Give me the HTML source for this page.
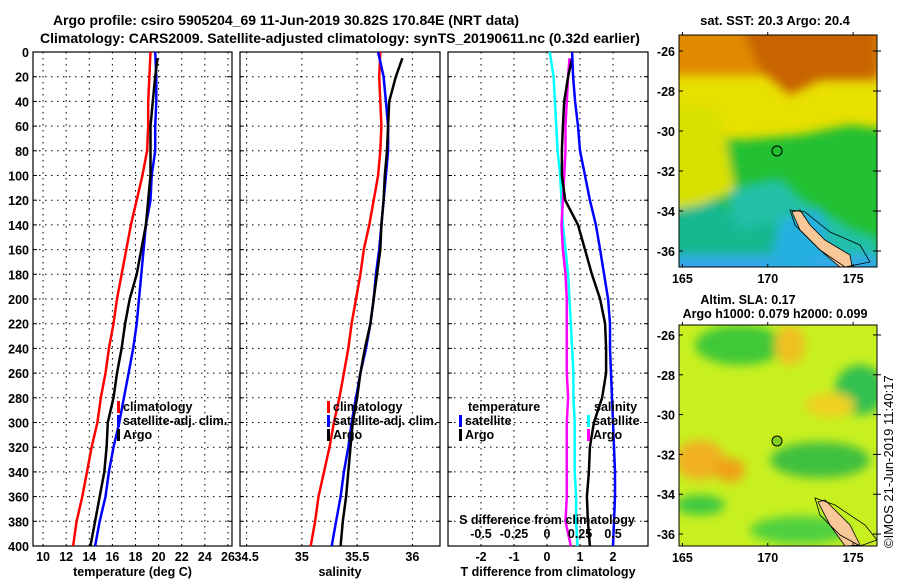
<!DOCTYPE html>
<html><head><meta charset="utf-8"><style>
body{margin:0;background:#fff;}
svg text{font-family:"Liberation Sans",sans-serif;font-weight:bold;}
</style></head><body>
<svg id="chart" width="900" height="580" xmlns="http://www.w3.org/2000/svg">
<defs>
<filter id="bl" x="-10%" y="-10%" width="120%" height="120%"><feGaussianBlur stdDeviation="5"/></filter>
<clipPath id="c1"><rect x="679" y="35" width="198" height="232"/></clipPath>
<clipPath id="c2"><rect x="679" y="325" width="198" height="221"/></clipPath>
</defs>
<text x="286" y="25" font-size="14" text-anchor="middle">Argo profile: csiro 5905204_69 11-Jun-2019 30.82S 170.84E (NRT data)</text>
<text x="340" y="43" font-size="14" text-anchor="middle">Climatology: CARS2009. Satellite-adjusted climatology: synTS_20190611.nc (0.32d earlier)</text>
<g>
<g clip-path="url(#c1)">
<rect x="679" y="35" width="198" height="232" fill="#e8e000"/>
<g filter="url(#bl)">
<rect x="670" y="25" width="220" height="50" fill="#e08a00"/>
<polygon points="740,25 877,25 877,80 820,80 790,95 760,70" fill="#c86400"/>
<polygon points="670,130 740,140 800,135 850,125 890,130 890,280 670,280" fill="#22c030"/>
<polygon points="730,190 780,180 800,200 850,230 877,240 877,280 730,280" fill="#20c0a8"/>
<polygon points="670,210 720,200 740,230 770,220 800,250 790,280 670,280" fill="#18b890"/>
<rect x="670" y="255" width="210" height="20" fill="#30a8e8"/>
<polygon points="780,220 820,210 830,250 800,270 770,265" fill="#28b0e0"/>
<polygon points="670,100 720,110 735,190 700,205 670,210" fill="#d8e000"/>
</g>
<polygon points="792,212 800,210 810,225 825,240 850,255 852,267 840,267 820,250 800,230" fill="#f8c898" stroke="#000" stroke-width="0.8"/>
<polygon points="790,210 805,212 830,232 860,245 870,262 845,267 820,250 795,225" fill="none" stroke="#000" stroke-width="0.8"/>
</g>
<rect x="679" y="35" width="198" height="232" fill="none" stroke="#000"/>
<circle cx="777" cy="151" r="5" fill="none" stroke="#000"/>
<text x="775" y="25" font-size="13" text-anchor="middle">sat. SST: 20.3 Argo: 20.4</text>
</g>
<g>
<g clip-path="url(#c2)">
<rect x="679" y="325" width="198" height="221" fill="#c8f020"/>
<g filter="url(#bl)">
<ellipse cx="740" cy="345" rx="45" ry="20" fill="#40c838"/>
<ellipse cx="790" cy="345" rx="15" ry="20" fill="#f0c020"/>
<ellipse cx="860" cy="390" rx="25" ry="25" fill="#30c050"/>
<ellipse cx="700" cy="460" rx="25" ry="20" fill="#f0b020"/>
<ellipse cx="730" cy="470" rx="15" ry="12" fill="#f0a018"/>
<ellipse cx="820" cy="460" rx="50" ry="18" fill="#40c040"/>
<ellipse cx="700" cy="505" rx="25" ry="10" fill="#40c840"/>
<ellipse cx="800" cy="530" rx="50" ry="14" fill="#50d040"/>
<ellipse cx="830" cy="405" rx="25" ry="12" fill="#f0d020"/>
</g>
<polygon points="818,502 825,500 835,510 850,525 860,545 845,546 830,525" fill="#f8c898" stroke="#000" stroke-width="0.8"/>
<polygon points="815,498 835,505 865,525 877,540 860,546 840,535 820,515" fill="none" stroke="#000" stroke-width="0.8"/>
</g>
<rect x="679" y="325" width="198" height="221" fill="none" stroke="#000"/>
<circle cx="777" cy="441" r="5" fill="#80d020" stroke="#000"/>
<text x="748" y="304" font-size="12.5" text-anchor="middle">Altim. SLA: 0.17</text>
<text x="775" y="318" font-size="12.5" text-anchor="middle">Argo h1000: 0.079 h2000: 0.099</text>
</g>
<text transform="translate(893,548) rotate(-90)" font-size="13" style="font-weight:normal">©IMOS 21-Jun-2019 11:40:17</text>
</svg>
<script>
const depths=[0,20,40,60,80,100,120,140,160,180,200,220,240,260,280,300,320,340,360,380,400];
const tClim=[19.3,19.2,19.1,19.1,19.0,18.6,18.1,17.6,17.2,16.8,16.4,16.1,15.7,15.4,15.0,14.7,14.2,13.8,13.4,12.9,12.6];
const tSat=[19.7,19.8,19.8,19.7,19.7,19.4,19.3,18.9,18.7,18.5,18.3,18.1,17.8,17.4,17.0,16.6,16.1,15.7,15.4,14.9,14.5];
const argoDepths=[5,20,40,60,80,100,120,140,160,180,200,220,240,260,280,300,320,340,360,380,400];
const tArgo=[19.9,19.7,19.5,19.3,19.3,19.3,19.1,18.9,18.5,18.1,17.5,17.1,16.8,16.4,16.1,15.6,15.5,15.3,14.9,14.5,14.1];
const sClim=[35.71,35.70,35.71,35.72,35.71,35.69,35.65,35.61,35.56,35.53,35.49,35.45,35.42,35.38,35.34,35.29,35.25,35.20,35.15,35.12,35.08];
const sSat=[35.69,35.74,35.76,35.78,35.78,35.76,35.74,35.72,35.70,35.67,35.65,35.62,35.58,35.53,35.49,35.45,35.42,35.38,35.35,35.31,35.27];
const sArgo=[35.91,35.85,35.79,35.78,35.77,35.75,35.74,35.72,35.71,35.68,35.65,35.62,35.57,35.53,35.50,35.46,35.44,35.42,35.40,35.37,35.35];
const dSSat=[0.02,0.05,0.06,0.07,0.08,0.10,0.11,0.12,0.14,0.16,0.17,0.18,0.19,0.20,0.20,0.21,0.21,0.21,0.22,0.22,0.23];
const dSArgo=[0.17,0.16,0.15,0.14,0.14,0.13,0.12,0.11,0.12,0.14,0.15,0.15,0.15,0.15,0.16,0.15,0.15,0.15,0.15,0.14,0.18];
const dTArgo=[0.76,0.64,0.52,0.48,0.45,0.45,0.55,0.94,1.15,1.36,1.61,1.76,1.79,1.79,1.67,1.42,1.30,1.27,1.21,1.24,1.30];
const dTSat=[0.76,0.79,0.85,0.94,1.00,1.15,1.30,1.48,1.61,1.73,1.85,1.91,1.91,1.94,1.97,2.00,2.03,2.06,2.06,2.03,2.00];
const depthTicks=[0,20,40,60,80,100,120,140,160,180,200,220,240,260,280,300,320,340,360,380,400];
const tTicks=[10,12,14,16,18,20,22,24,26];
const sTicks=[34.5,35,35.5,36];
const dTicks=[-2,-1,0,1,2];
const dSTickLabels=['-0.5','-0.25','0','0.25','0.5'];
const mapLatTicks=[-26,-28,-30,-32,-34,-36];
const mapLonTicks=[165,170,175];

const NS='http://www.w3.org/2000/svg';
const svg=document.getElementById('chart');
const yTop=52,yBot=546;
const yD=d=>yTop+(d/400)*(yBot-yTop);
function mk(tag,at,parent){const e=document.createElementNS(NS,tag);for(const k in at)e.setAttribute(k,at[k]);(parent||svg).appendChild(e);return e;}
function txt(x,y,s,size,anchor,parent){const e=mk('text',{x:x,y:y,'font-size':size,'text-anchor':anchor||'middle'},parent);e.textContent=s;return e;}
function panel(x0,x1,lo,hi,ticks,labels,title,name){
  const g=mk('g',{});
  
  
  const sx=v=>x0+(v-lo)/(hi-lo)*(x1-x0);
  depthTicks.forEach(d=>{if(d>0&&d<400)mk('line',{x1:x0,x2:x1,y1:yD(d),y2:yD(d),stroke:'#000','stroke-dasharray':'1.5,4.5'},g);
    mk('line',{x1:x0,x2:x0+4,y1:yD(d),y2:yD(d),stroke:'#000'},g);mk('line',{x1:x1-4,x2:x1,y1:yD(d),y2:yD(d),stroke:'#000'},g);});
  ticks.forEach((t,i)=>{const x=sx(t);mk('line',{x1:x,x2:x,y1:yTop,y2:yBot,stroke:'#000','stroke-dasharray':'1.5,4.5'},g);
    txt(x,561,labels[i],12.5,'middle',g);});
  mk('rect',{x:x0,y:yTop,width:x1-x0,height:yBot-yTop,fill:'none',stroke:'#000','stroke-width':1.2},g);
  txt((x0+x1)/2,576,title,12.5,'middle',g);
  return {g,sx};
}
function line(p,vals,ds,color,name){
  const pts=vals.map((v,i)=>p.sx(v).toFixed(1)+','+yD(ds[i]).toFixed(1)).join(' ');
  const e=mk('polyline',{points:pts,fill:'none',stroke:color,'stroke-width':2.5},p.g);
  
  
}
depthTicks.forEach(d=>{txt(29,yD(d)+5,String(d),12.5,'end');});
const p1=panel(33,232,9.13,26.35,tTicks,tTicks.map(String),'temperature (deg C)','temperature-panel');
line(p1,tClim,depths,'#f00','temp-climatology-line');
line(p1,tSat,depths,'#00f','temp-satellite-line');
line(p1,tArgo,argoDepths,'#000','temp-argo-line');
const p2=panel(240,440,34.44,36.25,sTicks,['34.5','35','35.5','36'],'salinity','salinity-panel');
line(p2,sClim,depths,'#f00','sal-climatology-line');
line(p2,sSat,depths,'#00f','sal-satellite-line');
line(p2,sArgo,argoDepths,'#000','sal-argo-line');
const p3=panel(448,648,-3.0,3.06,dTicks,dTicks.map(String),'T difference from climatology','difference-panel');
const p3s={g:p3.g,sx:v=>p3.sx(v*4)};
line(p3s,dSSat,depths,'#0ff','sal-diff-satellite-line');
line(p3s,dSArgo,argoDepths,'#f0f','sal-diff-argo-line');
line(p3,dTArgo,argoDepths,'#000','temp-diff-argo-line');
line(p3,dTSat,depths,'#00f','temp-diff-satellite-line');
dTicks.forEach((t,i)=>txt(p3.sx(t),538,dSTickLabels[i],12.5,'middle',p3.g));
txt(547,524,'S difference from climatology',12.5,'middle',p3.g);
function leg(x,y,color,label){const g=mk('g',{});
  
  
  mk('rect',{x:x,y:y-10,width:3,height:12,fill:color},g);txt(x+6,y,label,12.5,'start',g);}
leg(117,411,'#f00','climatology');leg(117,425,'#00f','satellite-adj. clim.');leg(117,439,'#000','Argo');
leg(327,411,'#f00','climatology');leg(327,425,'#00f','satellite-adj. clim.');leg(327,439,'#000','Argo');
txt(468,411,'temperature',12.5,'start');leg(459,425,'#00f','satellite');leg(459,439,'#000','Argo');
txt(594,411,'salinity',12.5,'start');leg(587,425,'#0ff','satellite');leg(587,439,'#f0f','Argo');
function mapAxes(y0,y1,latTop,latBot){
  const sy=l=>y0+(latTop-l)/(latTop-latBot)*(y1-y0);
  const sx=l=>679+(l-164.8)/(176.4-164.8)*198;
  mapLatTicks.forEach(l=>{const y=sy(l);txt(675,y+5,String(l),12.5,'end');
    mk('line',{x1:679,x2:683,y1:y,y2:y,stroke:'#000'});mk('line',{x1:873,x2:881,y1:y,y2:y,stroke:'#000'});});
  mapLonTicks.forEach(l=>{const x=sx(l);txt(x,y1+16,String(l),12.5,'middle');
    mk('line',{x1:x,x2:x,y1:y0-3,y2:y0,stroke:'#000'});mk('line',{x1:x,x2:x,y1:y1-3,y2:y1,stroke:'#000'});});
}
mapAxes(35,267,-25.2,-36.8);
mapAxes(325,546,-25.5,-36.6);
</script>
</body></html>
